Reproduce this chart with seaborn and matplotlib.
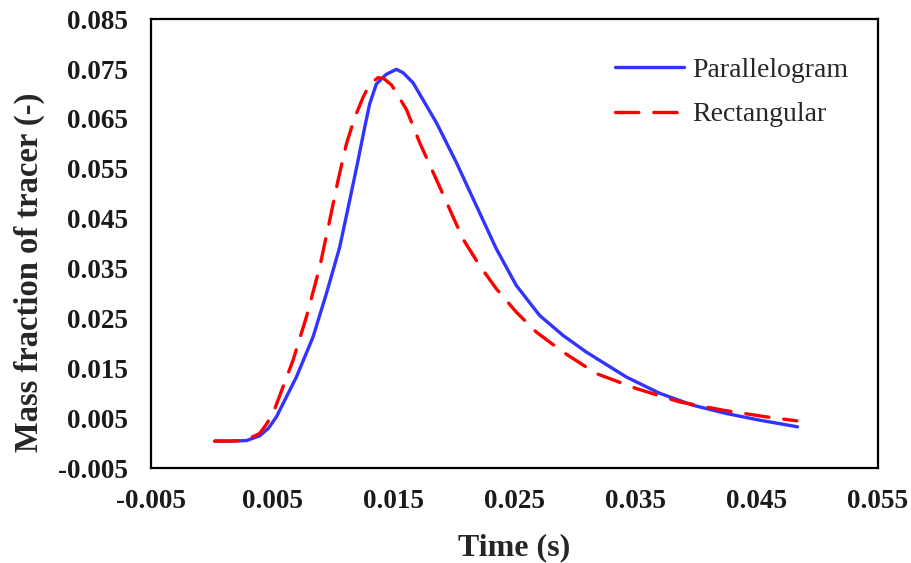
import numpy as np
import pandas as pd
import matplotlib
matplotlib.use("Agg")
import matplotlib.pyplot as plt
import seaborn as sns

# ---- data ----
t_par = [0.00026, 0.0015, 0.00287, 0.00397, 0.0047, 0.00535, 0.0070, 0.00837, 0.00947,
         0.01057, 0.01139, 0.01208, 0.01263, 0.01304, 0.0136, 0.01442, 0.01525, 0.0158,
         0.01662, 0.01855, 0.0202, 0.02185, 0.0235, 0.02515, 0.02707, 0.029, 0.03092,
         0.03422, 0.03697, 0.0397, 0.04247, 0.04522, 0.04836]
v_par = [0.0004, 0.0004, 0.0005, 0.00146, 0.0030, 0.00526, 0.01326, 0.02126, 0.02994,
         0.03926, 0.0486, 0.0566, 0.06326, 0.06794, 0.0720, 0.07394, 0.07494, 0.07426,
         0.07226, 0.06426, 0.05626, 0.0476, 0.03894, 0.0316, 0.0256, 0.0216, 0.01826,
         0.01326, 0.0100, 0.0076, 0.00594, 0.0046, 0.00326]

t_rect = [0.00026, 0.0015, 0.00273, 0.00397, 0.0045, 0.00507, 0.00672, 0.00782, 0.00892,
          0.00974, 0.01043, 0.01112, 0.01181, 0.01249, 0.01304, 0.01373, 0.0142, 0.01485,
          0.01607, 0.01717, 0.01841, 0.01964, 0.02074, 0.02212, 0.0235, 0.02515, 0.0268,
          0.029, 0.03175, 0.03505, 0.03862, 0.0422, 0.04578, 0.0483]
v_rect = [0.0004, 0.0004, 0.0005, 0.00194, 0.0037, 0.00594, 0.0166, 0.02526, 0.03526,
          0.0446, 0.0526, 0.05994, 0.06526, 0.06926, 0.07194, 0.07326, 0.0731, 0.0718,
          0.06694, 0.06026, 0.0536, 0.04694, 0.04094, 0.0356, 0.03094, 0.02626, 0.02226,
          0.01826, 0.01394, 0.01094, 0.00826, 0.0066, 0.00526, 0.00446]

series_names = ["Parallelogram", "Rectangular"]
x_ticks = [-0.005, 0.005, 0.015, 0.025, 0.035, 0.045, 0.055]
x_tick_labels = ["-0.005", "0.005", "0.015", "0.025", "0.035", "0.045", "0.055"]
y_ticks = [-0.005, 0.005, 0.015, 0.025, 0.035, 0.045, 0.055, 0.065, 0.075, 0.085]
y_tick_labels = ["-0.005", "0.005", "0.015", "0.025", "0.035", "0.045", "0.055",
                 "0.065", "0.075", "0.085"]

sns.set_style("white")
plt.rcParams["font.family"] = ["Liberation Serif", "DejaVu Serif"]
plt.rcParams["axes.unicode_minus"] = False

fig = plt.figure(figsize=(9.12, 5.63), dpi=100)
ax = fig.add_axes([0.1656, 0.1687, 0.9627 - 0.1656, 0.966 - 0.1687])

df_par = pd.DataFrame({"t": t_par, "v": v_par})
df_rect = pd.DataFrame({"t": t_rect, "v": v_rect})

sns.lineplot(data=df_par, x="t", y="v", ax=ax, color="#3333FF", lw=2.4,
             label=series_names[0], sort=False, estimator=None,
             solid_joinstyle="round", solid_capstyle="round")
sns.lineplot(data=df_rect, x="t", y="v", ax=ax, color="#FF0000", lw=2.4,
             label=series_names[1], sort=False, estimator=None,
             linestyle=(0, (7, 4.5)), dash_capstyle="round", dash_joinstyle="round")

ax.set_xlim(-0.005, 0.055)
ax.set_ylim(-0.005, 0.085)
ax.set_xticks(x_ticks)
ax.set_xticklabels(x_tick_labels)
ax.set_yticks(y_ticks)
ax.set_yticklabels(y_tick_labels)

for lab in ax.get_xticklabels() + ax.get_yticklabels():
    lab.set_fontweight("bold")
    lab.set_fontsize(19.5)
    lab.set_color("#1a1a1a")

ax.tick_params(axis="x", direction="in", length=6, width=1.5, color="black", pad=15)
ax.tick_params(axis="y", direction="in", length=6, width=1.5, color="black", pad=16.5)
for s in ax.spines.values():
    s.set_visible(True)
    s.set_color("black")
    s.set_linewidth(1.6)

ax.set_xlabel("Time (s)", fontsize=23, fontweight="bold", labelpad=14)
ax.set_ylabel("Mass fraction of tracer (-)", fontsize=23.5, fontweight="bold", labelpad=11)
ax.yaxis.set_label_coords(-0.146, 0.437)

leg = ax.legend(loc="upper right", bbox_to_anchor=(0.994, 0.97), frameon=False,
                fontsize=20, handlelength=2.5, handletextpad=0.3, labelspacing=0.68)

fig.savefig("out.png", dpi=100)
